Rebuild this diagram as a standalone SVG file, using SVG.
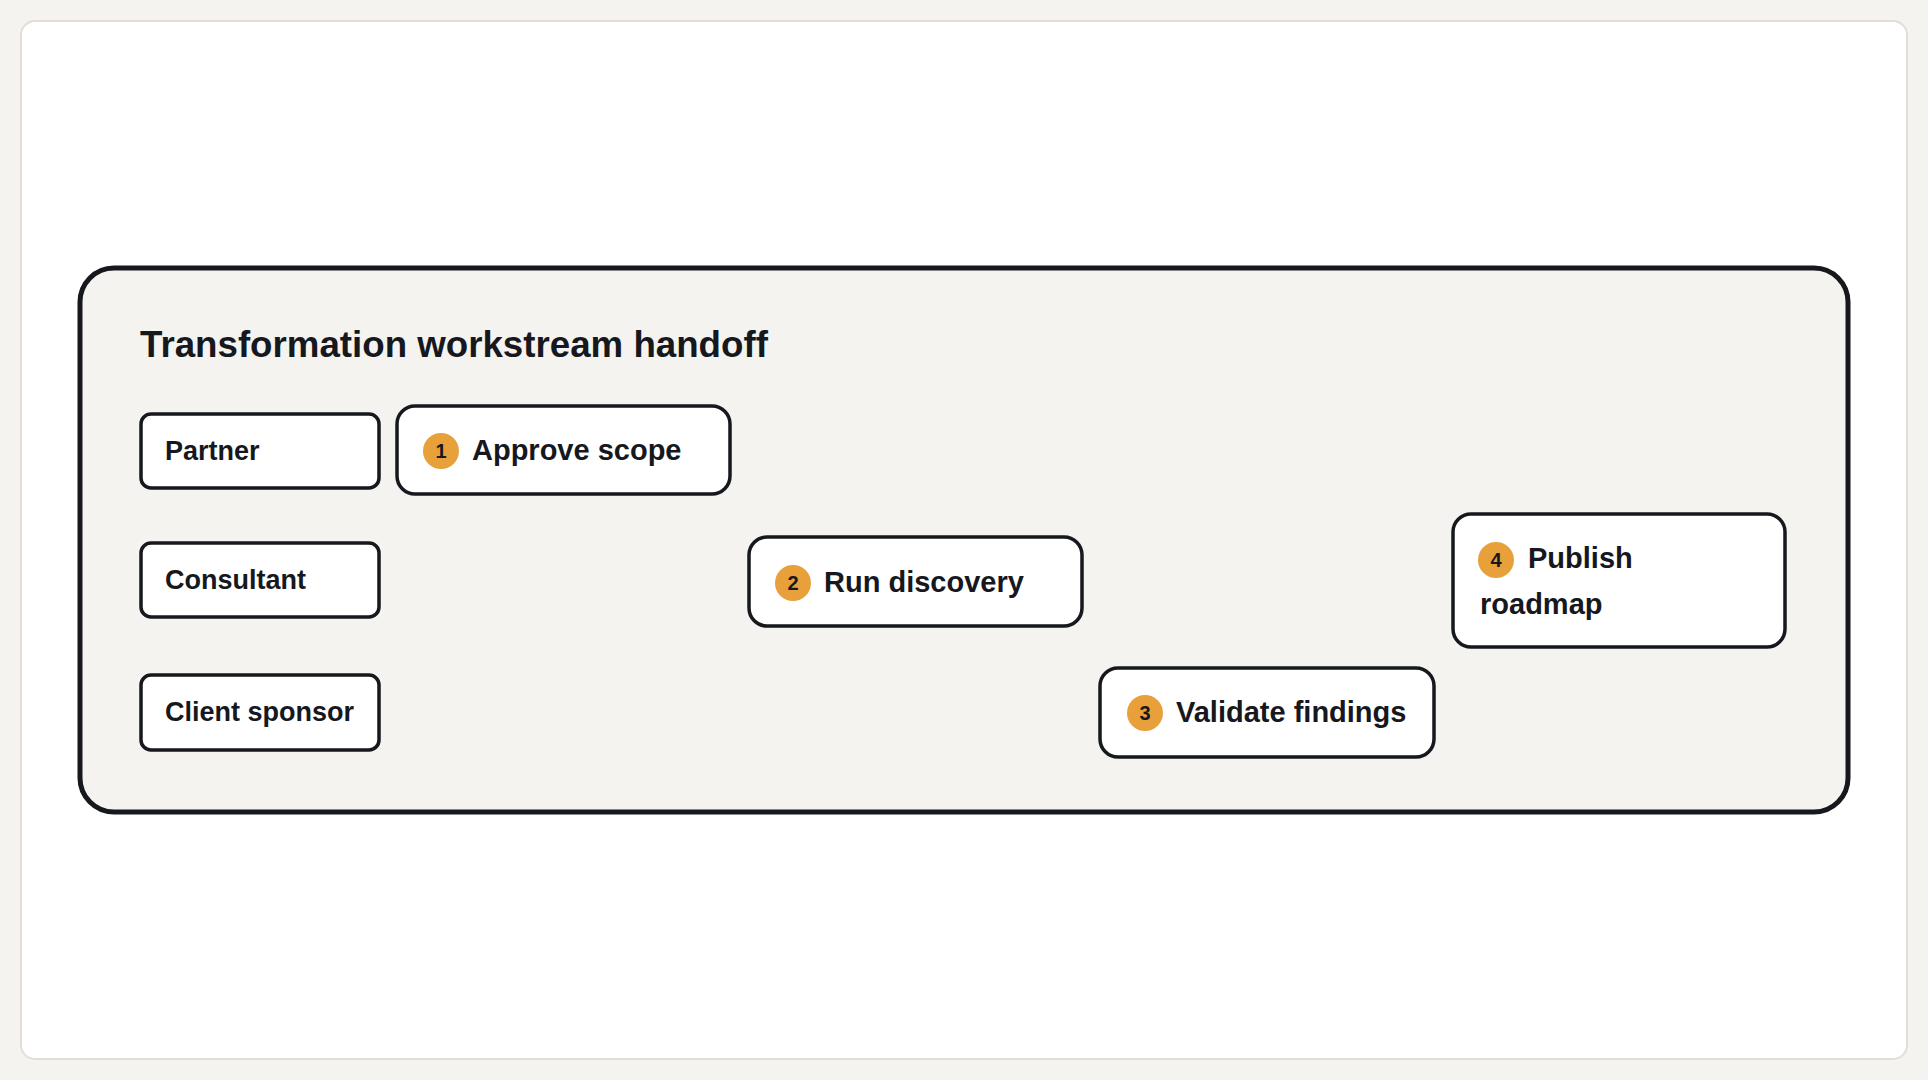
<svg xmlns="http://www.w3.org/2000/svg" width="1928" height="1080" viewBox="0 0 1928 1080">
<style>
.lane{fill:#fff;stroke:#16181d;stroke-width:3.5}
.step{fill:#fff;stroke:#16181d;stroke-width:3.5}
.lt{font-family:"Liberation Sans",Arial,sans-serif;font-weight:bold;font-size:27px;fill:#16181d}
.st{font-family:"Liberation Sans",Arial,sans-serif;font-weight:bold;font-size:29px;fill:#16181d}
.badge{fill:#e8a03a}
.bt{font-family:"Liberation Sans",Arial,sans-serif;font-weight:bold;font-size:20px;fill:#16181d;text-anchor:middle}
</style>
<rect width="1928" height="1080" fill="#f4f3f0"/>
<rect x="21" y="21" width="1886" height="1038" rx="14" fill="#fff" stroke="#e2ddd6" stroke-width="2"/>
<g id="frame">
<rect x="80" y="268" width="1768" height="544" rx="34" fill="#f4f3f0" stroke="#16181d" stroke-width="5"/>
<text x="140" y="357" font-family="Liberation Sans,Arial,sans-serif" font-weight="bold" font-size="36.7" fill="#16181d">Transformation workstream handoff</text>
</g>
<g id="lane-partner"><rect class="lane" x="141" y="414" width="238" height="74" rx="10"/><text class="lt" x="165" y="460">Partner</text></g>
<g id="lane-consultant"><rect class="lane" x="141" y="543" width="238" height="74" rx="10"/><text class="lt" x="165" y="589">Consultant</text></g>
<g id="lane-client"><rect class="lane" x="141" y="675" width="238" height="75" rx="10"/><text class="lt" x="165" y="721">Client sponsor</text></g>
<g id="step1"><rect class="step" x="397" y="406" width="333" height="88" rx="18"/><circle class="badge" cx="441" cy="451" r="18"/><text class="bt" x="441" y="458">1</text><text class="st" x="472" y="460">Approve scope</text></g>
<g id="step2"><rect class="step" x="749" y="537" width="333" height="89" rx="18"/><circle class="badge" cx="793" cy="583" r="18"/><text class="bt" x="793" y="590">2</text><text class="st" x="824" y="592">Run discovery</text></g>
<g id="step3"><rect class="step" x="1100" y="668" width="334" height="89" rx="18"/><circle class="badge" cx="1145" cy="713" r="18"/><text class="bt" x="1145" y="720">3</text><text class="st" x="1176" y="722">Validate findings</text></g>
<g id="step4"><rect class="step" x="1453" y="514" width="332" height="133" rx="18"/><circle class="badge" cx="1496" cy="560" r="18"/><text class="bt" x="1496" y="567">4</text><text class="st" x="1528" y="568">Publish</text><text class="st" x="1480" y="614">roadmap</text></g>
<g id="connectors"></g>
</svg>
